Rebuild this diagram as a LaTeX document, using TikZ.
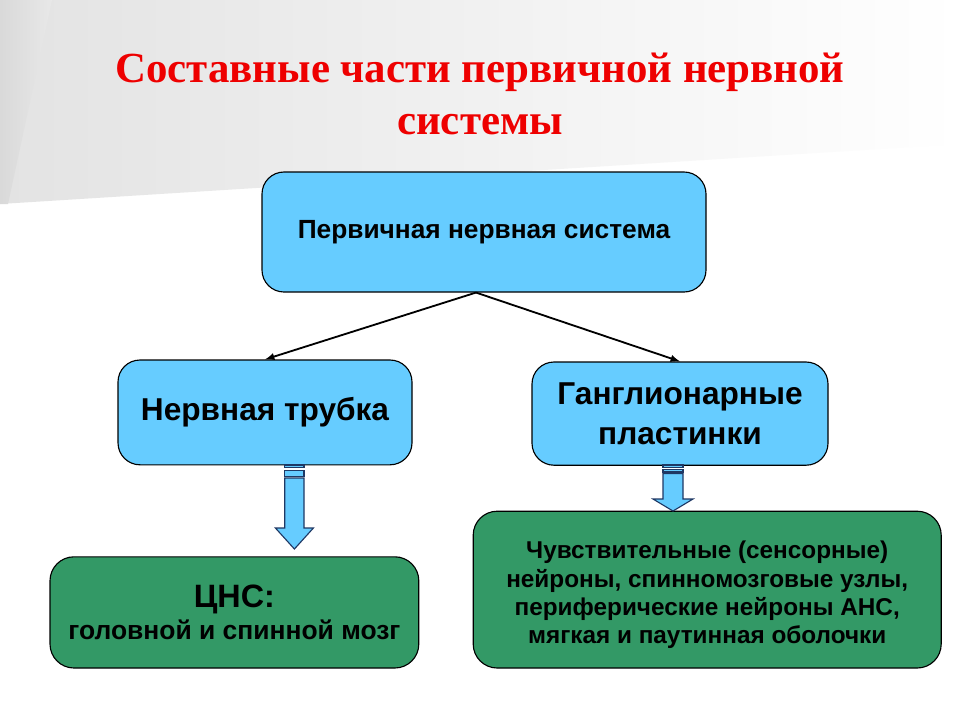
\documentclass[tikz,border=0pt]{standalone}
\usepackage{fontspec}
\setmainfont{Liberation Sans}
\newfontfamily\titlefont{Liberation Serif}
\usetikzlibrary{positioning}
\definecolor{boxblue}{HTML}{66CCFF}
\definecolor{boxgreen}{HTML}{339966}
\definecolor{titlered}{HTML}{EE0000}
\definecolor{arrowline}{HTML}{1F3864}

\begin{document}
\begin{tikzpicture}[align=center,
    bluebox/.style={rectangle, rounded corners=0.55cm, draw=black, line width=0.8pt, fill=boxblue, font=\bfseries},
    greenbox/.style={rectangle, rounded corners=0.6cm, draw=black, line width=0.8pt, fill=boxgreen, font=\bfseries},
    link/.style={->, >=latex, line width=1.3pt},
    stripe/.style={fill=boxblue, draw=arrowline, line width=0.8pt}]
    \useasboundingbox (0, 0) rectangle (24, -18);
    \fill[white] (0, 0) rectangle (24, -18);
    \shade[left color=gray!22, right color=white] (0, 0) -- (24, 0) -- (24, -3.6) -- (0, -5.1) -- cycle;
    \shade[left color=gray!30, right color=gray!18] (0, 0) -- (1.3, 0) -- (0.2, -5.1) -- (0, -5.1) -- cycle;

    \node[text=titlered, font=\titlefont\bfseries\fontsize{30.5}{37}\selectfont] at (12, -2.35) (title) {Составные части первичной нервной\\системы};

    \node[bluebox, minimum width=11.1cm, minimum height=3cm, font=\bfseries\fontsize{18.7}{22}\selectfont] at (12.1, -5.8) (pns) {Первичная нервная система};
    \node[bluebox, minimum width=7.35cm, minimum height=2.62cm, font=\bfseries\fontsize{22.5}{26}\selectfont] at (6.625, -10.31) (tube) {Нервная трубка};
    \node[bluebox, minimum width=7.4cm, minimum height=2.58cm, font=\bfseries\fontsize{22.5}{28.5}\selectfont] at (17.0, -10.34) (plates) {Ганглионарные\\пластинки};
    \node[greenbox, minimum width=9.22cm, minimum height=2.78cm, font=\bfseries\fontsize{18.8}{23}\selectfont] at (5.86, -15.31) (cns) {{\fontsize{23}{23}\selectfont ЦНС:}\\головной и спинной мозг};
    \node[greenbox, minimum width=11.7cm, minimum height=3.92cm, font=\bfseries\fontsize{17.3}{20}\selectfont] at (17.68, -14.74) (periph) {\rule{0pt}{20pt}Чувствительные (сенсорные)\\нейроны, спинномозговые узлы,\\периферические нейроны АНС,\\мягкая и паутинная оболочки};

    \draw[link]     ([xshift=-0.2cm]pns.south) -- (tube.north);
    \draw[link]     ([xshift=-0.2cm]pns.south) -- (plates.north);

    % block arrow under the tube
    \draw[stripe]   (7.12, -11.625) rectangle (7.6, -11.69);
    \draw[stripe]   (7.12, -11.76) rectangle (7.6, -11.92);
    \draw[stripe]   (7.12, -11.95) -- (7.12, -13.2) -- (6.885, -13.2) -- (7.36, -13.725)
                    -- (7.835, -13.2) -- (7.6, -13.2) -- (7.6, -11.95) -- cycle;
    % block arrow under the plates
    \draw[stripe]   (16.575, -11.625) rectangle (17.075, -11.68);
    \draw[stripe]   (16.575, -11.74) rectangle (17.075, -11.8);
    \draw[stripe]   (16.575, -11.84) -- (16.575, -12.475) -- (16.325, -12.475) -- (16.825, -12.775)
                    -- (17.325, -12.475) -- (17.075, -12.475) -- (17.075, -11.84) -- cycle;
\end{tikzpicture}
\end{document}
